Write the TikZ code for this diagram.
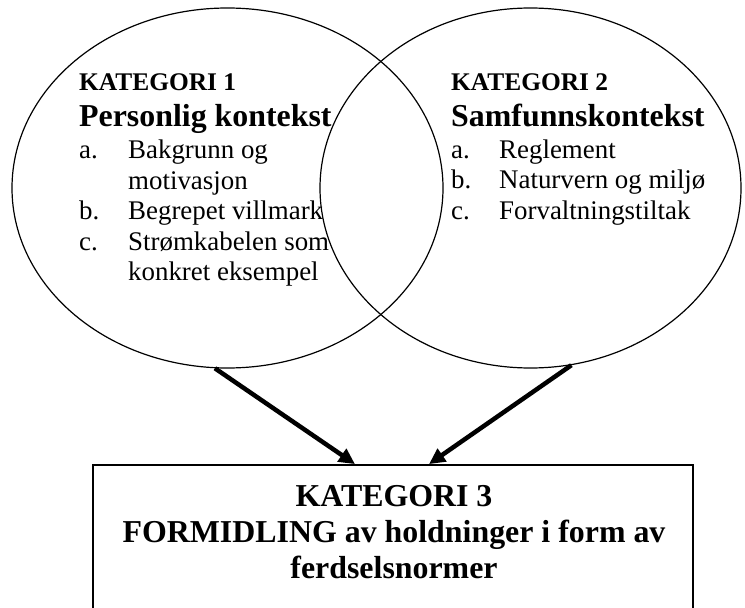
\documentclass[tikz,border=0pt]{standalone}
\usepackage{fontspec}
\setmainfont{Liberation Serif}
\usepackage{tikz}
\usetikzlibrary{positioning, shapes.geometric, arrows.meta}

\begin{document}
\begin{tikzpicture}[x=1bp, y=-1bp,
		CatEllipse/.style={ellipse, draw, line width=1.2bp, inner sep=0pt, minimum height=360bp},
		CatBox/.style={rectangle, draw, line width=1.8bp, minimum width=600bp, minimum height=150bp},
		SmallHead/.style={anchor=base west, inner sep=0pt, font=\fontsize{25.5}{28}\selectfont\bfseries},
		BigHead/.style={anchor=base west, inner sep=0pt, font=\fontsize{32}{34}\selectfont\bfseries},
		ItemList/.style={anchor=base west, inner sep=0pt, font=\fontsize{27}{30.5}\selectfont},
		BoxText/.style={anchor=base, inner sep=0pt, font=\fontsize{32}{36}\selectfont\bfseries},
		Flow/.style={line width=4.5bp, -{Triangle[length=16bp, width=15bp]}}]

	\useasboundingbox (0,0) rectangle (745,608);
	\clip (0,0) rectangle (745,608);

	% Nodes
	\node[CatEllipse, minimum width=431bp] (CatOne) at (227.5,188) {};
	\node[CatEllipse, minimum width=421bp] (CatTwo) at (530.5,188) {};
	\node[CatBox] (CatThree) at (393,540) {};

	% Texts
	\node[SmallHead] (HeadOne) at (79,91) {KATEGORI 1};
	\node[BigHead] (NameOne) at (79,126.5) {Personlig kontekst};
	\node[ItemList] (ListOne) at (79,159) {\begin{tabular}[t]{@{}p{49bp}@{}l@{}}
			a. & Bakgrunn og\\
			   & motivasjon\\
			b. & Begrepet villmark\\
			c. & Strømkabelen som\\
			   & konkret eksempel
		\end{tabular}};

	\node[SmallHead] (HeadTwo) at (451,91) {KATEGORI 2};
	\node[BigHead] (NameTwo) at (451,126.5) {Samfunnskontekst};
	\node[ItemList] (ListTwo) at (451,158.5) {\begin{tabular}[t]{@{}p{48bp}@{}l@{}}
			a. & Reglement\\
			b. & Naturvern og miljø\\
			c. & Forvaltningstiltak
		\end{tabular}};

	\node[BoxText] (TextThree) at (394,506.7) {\begin{tabular}[t]{@{}c@{}}
			KATEGORI 3\\
			FORMIDLING av holdninger i form av\\
			ferdselsnormer
		\end{tabular}};

	% Lines
	\draw[Flow] (CatOne.266) -- ([xshift=-38bp]CatThree.north);
	\draw[Flow] (CatTwo.283) -- ([xshift=36bp]CatThree.north);
\end{tikzpicture}
\end{document}
